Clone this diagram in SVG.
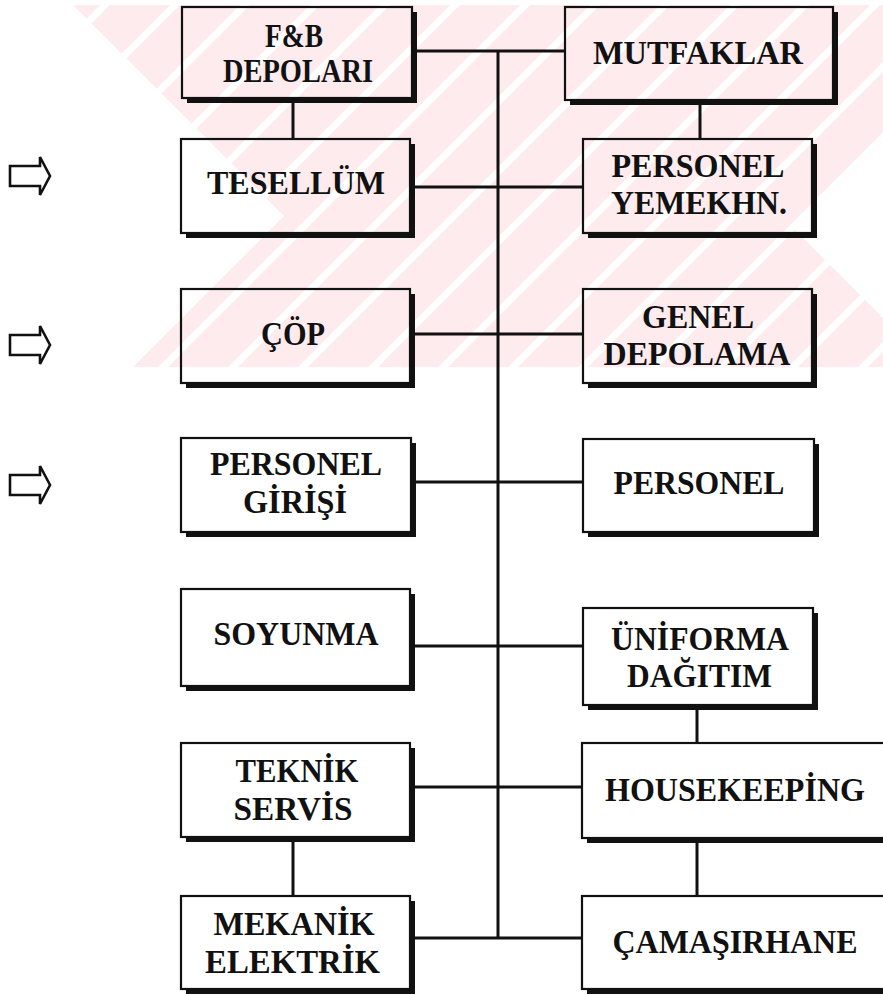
<svg xmlns="http://www.w3.org/2000/svg" width="883" height="995" viewBox="0 0 883 995">
  <style>
    .frame { fill: none; stroke: #111; stroke-width: 2.2; }
    .shadow { fill: #111; }
    .wire { fill: none; stroke: #111; stroke-width: 3; stroke-linecap: butt; }
    .label { font-family: "Liberation Serif", "Times New Roman", serif; font-weight: bold; font-size: 33px; fill: #111; text-anchor: middle; }
    .arrow { fill: none; stroke: #111; stroke-width: 2.6; stroke-linejoin: miter; }
  </style>
  <defs>
    <pattern id="pinkStripes" patternUnits="userSpaceOnUse" width="70" height="70" patternTransform="translate(40,0)">
      <rect width="70" height="70" fill="#fdebee"/>
      <path d="M0,70 L70,0 M-10,10 L10,-10 M60,80 L80,60" stroke="#ffffff" stroke-width="7"/>
    </pattern>
    <path id="blockArrow" d="M0,-10 H30 V-19 L40,0 L30,19 V10 H0 Z"/>
  </defs>

  <rect width="883" height="995" fill="#ffffff"/>

  <!-- faint background mark -->
  <g id="background-mark">
    <polygon points="73,5 883,5 883,142 795,230 883,318 883,367 133,367 284,216" fill="url(#pinkStripes)"/>
  </g>

  <!-- inbound arrows -->
  <g id="arrows">
    <use href="#blockArrow" class="arrow" transform="translate(10,176)"/>
    <use href="#blockArrow" class="arrow" transform="translate(10,345)"/>
    <use href="#blockArrow" class="arrow" transform="translate(10,485)"/>
  </g>

  <!-- connectors -->
  <g id="connectors">
    <path class="wire" d="M412,51 H565"/>
    <path class="wire" d="M498,51 V938"/>
    <path class="wire" d="M293,98 V139"/>
    <path class="wire" d="M700,100 V139"/>
    <path class="wire" d="M410,187 H583"/>
    <path class="wire" d="M410,334 H583"/>
    <path class="wire" d="M411,482 H583"/>
    <path class="wire" d="M410,646 H583"/>
    <path class="wire" d="M697,705 V743"/>
    <path class="wire" d="M410,787 H582"/>
    <path class="wire" d="M293,837 V896"/>
    <path class="wire" d="M410,938 H582"/>
    <path class="wire" d="M697,838 V896"/>
  </g>

  <!-- nodes -->
  <g id="fb-depolari">
    <path class="shadow" d="M412,12 H417 V103 H187 V98 H412 Z"/>
    <rect class="frame" x="182" y="7" width="230" height="91"/>
    <text class="label" x="294" y="46.5" textLength="58" lengthAdjust="spacingAndGlyphs">F&amp;B</text>
    <text class="label" x="298" y="81.7" textLength="150" lengthAdjust="spacingAndGlyphs">DEPOLARI</text>
  </g>

  <g id="mutfaklar">
    <path class="shadow" d="M833,12 H838 V105 H570 V100 H833 Z"/>
    <rect class="frame" x="565" y="7" width="268" height="93"/>
    <text class="label" x="698" y="64.3" textLength="210" lengthAdjust="spacingAndGlyphs">MUTFAKLAR</text>
  </g>

  <g id="tesellum">
    <path class="shadow" d="M410,144 H415 V238 H186 V233 H410 Z"/>
    <rect class="frame" x="181" y="139" width="229" height="94"/>
    <text class="label" x="296" y="194.3" textLength="178" lengthAdjust="spacingAndGlyphs">TESELLÜM</text>
  </g>

  <g id="personel-yemekhane">
    <path class="shadow" d="M812,144 H817 V238 H588 V233 H812 Z"/>
    <rect class="frame" x="583" y="139" width="229" height="94"/>
    <text class="label" x="698" y="176.7" textLength="173" lengthAdjust="spacingAndGlyphs">PERSONEL</text>
    <text class="label" x="699" y="214.3" textLength="176" lengthAdjust="spacingAndGlyphs">YEMEKHN.</text>
  </g>

  <g id="cop">
    <path class="shadow" d="M410,294 H415 V388 H186 V383 H410 Z"/>
    <rect class="frame" x="181" y="289" width="229" height="94"/>
    <text class="label" x="293" y="345" textLength="64" lengthAdjust="spacingAndGlyphs">ÇÖP</text>
  </g>

  <g id="genel-depolama">
    <path class="shadow" d="M812,294 H817 V388 H588 V383 H812 Z"/>
    <rect class="frame" x="583" y="289" width="229" height="94"/>
    <text class="label" x="698" y="328.3" textLength="112" lengthAdjust="spacingAndGlyphs">GENEL</text>
    <text class="label" x="697" y="365" textLength="187" lengthAdjust="spacingAndGlyphs">DEPOLAMA</text>
  </g>

  <g id="personel-girisi">
    <path class="shadow" d="M411,443 H416 V537 H186 V532 H411 Z"/>
    <rect class="frame" x="181" y="438" width="230" height="94"/>
    <text class="label" x="296" y="475" textLength="172" lengthAdjust="spacingAndGlyphs">PERSONEL</text>
    <text class="label" x="295" y="513.3" textLength="104" lengthAdjust="spacingAndGlyphs">GİRİŞİ</text>
  </g>

  <g id="personel">
    <path class="shadow" d="M814,444 H819 V537 H588 V532 H814 Z"/>
    <rect class="frame" x="583" y="439" width="231" height="93"/>
    <text class="label" x="699" y="494" textLength="171" lengthAdjust="spacingAndGlyphs">PERSONEL</text>
  </g>

  <g id="soyunma">
    <path class="shadow" d="M410,594 H415 V691 H186 V686 H410 Z"/>
    <rect class="frame" x="181" y="589" width="229" height="97"/>
    <text class="label" x="296" y="645" textLength="165" lengthAdjust="spacingAndGlyphs">SOYUNMA</text>
  </g>

  <g id="uniforma-dagitim">
    <path class="shadow" d="M813,613 H818 V710 H588 V705 H813 Z"/>
    <rect class="frame" x="583" y="608" width="230" height="97"/>
    <text class="label" x="700" y="650" textLength="178" lengthAdjust="spacingAndGlyphs">ÜNİFORMA</text>
    <text class="label" x="699.5" y="686.7" textLength="145" lengthAdjust="spacingAndGlyphs">DAĞITIM</text>
  </g>

  <g id="teknik-servis">
    <path class="shadow" d="M410,748 H415 V842 H186 V837 H410 Z"/>
    <rect class="frame" x="181" y="743" width="229" height="94"/>
    <text class="label" x="297" y="781.7" textLength="123" lengthAdjust="spacingAndGlyphs">TEKNİK</text>
    <text class="label" x="293" y="820" textLength="119" lengthAdjust="spacingAndGlyphs">SERVİS</text>
  </g>

  <g id="housekeeping">
    <path class="shadow" d="M890,748 H895 V843 H587 V838 H890 Z"/>
    <rect class="frame" x="582" y="743" width="308" height="95"/>
    <text class="label" x="735" y="800.7" textLength="260" lengthAdjust="spacingAndGlyphs">HOUSEKEEPİNG</text>
  </g>

  <g id="mekanik-elektrik">
    <path class="shadow" d="M410,901 H415 V994 H186 V989 H410 Z"/>
    <rect class="frame" x="181" y="896" width="229" height="93"/>
    <text class="label" x="294" y="935" textLength="161" lengthAdjust="spacingAndGlyphs">MEKANİK</text>
    <text class="label" x="292.5" y="973.3" textLength="175" lengthAdjust="spacingAndGlyphs">ELEKTRİK</text>
  </g>

  <g id="camasirhane">
    <path class="shadow" d="M890,901 H895 V994 H587 V989 H890 Z"/>
    <rect class="frame" x="582" y="896" width="308" height="93"/>
    <text class="label" x="735" y="952.7" textLength="245" lengthAdjust="spacingAndGlyphs">ÇAMAŞIRHANE</text>
  </g>
</svg>
